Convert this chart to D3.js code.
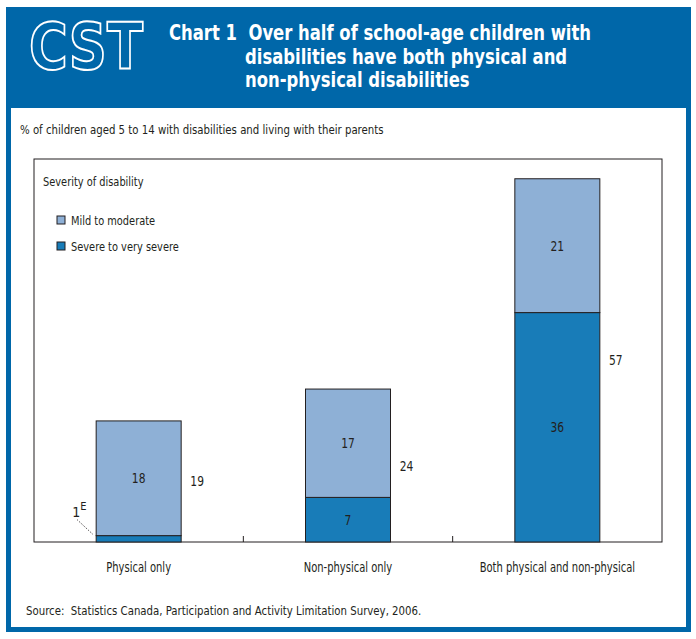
<!DOCTYPE html>
<html>
  <head>
    <meta charset="utf-8">
    <title>Chart 1</title>
    <script src="https://cdn.jsdelivr.net/npm/d3@7"></script>
    <style>
      body { margin: 0; background: #fff; }
      text { font-family: "DejaVu Sans", sans-serif; font-stretch: condensed; fill: #231f20; }
    </style>
  </head>
  <body>
    <script>
      // data
      var categories = ["Physical only", "Non-physical only", "Both physical and non-physical"];
      var severe = [1, 7, 36];
      var mild = [18, 17, 21];
      var totals = [19, 24, 57];
      var seriesNames = ["Mild to moderate", "Severe to very severe"];
      var titleLines = ["Chart 1  Over half of school-age children with",
                        "disabilities have both physical and",
                        "non-physical disabilities"];

      var width = 696, height = 639;
      var blue = "#0067a9";
      var colMild = "#8eb0d6", colSevere = "#187cb8";

      // squeeze text horizontally, the original uses a condensed face
      function condense(sel, k) {
        sel.each(function() {
          var len = this.getComputedTextLength();
          d3.select(this).attr("textLength", len * k).attr("lengthAdjust", "spacingAndGlyphs");
        });
      }

      var svg = d3.select("body").append("svg")
          .attr("width", width)
          .attr("height", height);

      // outer frame + header
      svg.append("rect").attr("x", 6).attr("y", 7).attr("width", 685).attr("height", 625).attr("fill", blue);
      svg.append("rect").attr("x", 11).attr("y", 108).attr("width", 675).attr("height", 519).attr("fill", "#fff");

      svg.append("text")
          .attr("x", 29).attr("y", 69)
          .attr("textLength", 114).attr("lengthAdjust", "spacingAndGlyphs")
          .style("font-family", "'DejaVu Sans', sans-serif").style("font-stretch", "normal")
          .style("font-weight", "bold").style("font-size", "64px")
          .style("fill", "none").style("stroke", "#fff").style("stroke-width", 2)
          .text("CST");

      svg.selectAll(".title").data(titleLines).enter().append("text")
          .attr("class", "title")
          .attr("x", function(d, i) { return i == 0 ? 169 : 245; })
          .attr("y", function(d, i) { return 40 + i * 23.5; })
          .style("fill", "#fff").style("font-weight", "bold").style("font-size", "21px")
          .style("white-space", "pre")
          .text(function(d) { return d; })
          .call(condense, 0.87);

      svg.append("text").attr("x", 20).attr("y", 134)
          .style("font-size", "13px")
          .text("% of children aged 5 to 14 with disabilities and living with their parents")
          .call(condense, 0.87);

      // plot area
      var pLeft = 34, pRight = 662, pTop = 159, pBottom = 542;

      var x = d3.scaleBand().domain(categories).range([pLeft, pRight]).paddingInner(0).paddingOuter(0);
      var y = d3.scaleLinear().domain([0, 60.1]).range([pBottom, pTop]);
      var barW = 85;

      svg.append("rect").attr("x", pLeft).attr("y", pTop)
          .attr("width", pRight - pLeft).attr("height", pBottom - pTop)
          .attr("fill", "none").attr("stroke", "#231f20").attr("stroke-width", 1);

      var table = categories.map(function(c, i) {
        return { cat: c, severe: severe[i], mild: mild[i], total: totals[i] };
      });
      var stack = d3.stack().keys(["severe", "mild"])(table);

      svg.selectAll(".layer").data(stack).enter().append("g")
          .attr("fill", function(d) { return d.key == "severe" ? colSevere : colMild; })
        .selectAll("rect").data(function(d) { return d; }).enter().append("rect")
          .attr("x", function(d) { return x(d.data.cat) + x.bandwidth() / 2 - barW / 2; })
          .attr("y", function(d) { return y(d[1]); })
          .attr("width", barW)
          .attr("height", function(d) { return y(d[0]) - y(d[1]); })
          .attr("stroke", "#231f20").attr("stroke-width", 1);

      // segment labels (skip the tiny 1E one)
      svg.selectAll(".seglab").data(stack).enter().append("g")
        .selectAll("text").data(function(d) {
            return d.filter(function(p) { return p[1] - p[0] > 3; }).map(function(p) { return { p: p, key: d.key }; });
          }).enter().append("text")
          .attr("x", function(d) { return x(d.p.data.cat) + x.bandwidth() / 2; })
          .attr("y", function(d) { return (y(d.p[0]) + y(d.p[1])) / 2 + 5; })
          .attr("text-anchor", "middle").style("font-size", "14px")
          .text(function(d) { return d.p.data[d.key]; })
          .call(condense, 0.85);

      // totals
      svg.selectAll(".tot").data(table).enter().append("text")
          .attr("x", function(d) { return x(d.cat) + x.bandwidth() / 2 + barW / 2 + 16; })
          .attr("y", function(d) { return (y(d.total) + y(0)) / 2 + 5; })
          .attr("text-anchor", "middle").style("font-size", "14px")
          .text(function(d) { return d.total; })
          .call(condense, 0.85);

      // 1E callout for the small segment
      var c0 = x(categories[0]) + x.bandwidth() / 2 - barW / 2;
      svg.append("line")
          .attr("x1", c0 - 19).attr("y1", y(3.5))
          .attr("x2", c0 - 3).attr("y2", y(severe[0]) - 1)
          .attr("stroke", "#231f20").attr("stroke-width", 1).attr("stroke-dasharray", "1,1.5");
      var lab = svg.append("text").attr("x", c0 - 24).attr("y", y(4))
          .style("font-size", "14px");
      lab.append("tspan").text(severe[0]);
      lab.append("tspan").attr("dx", 0).attr("dy", -7).style("font-size", "11px").text("E");

      // x axis: ticks only at band boundaries
      var bounds = categories.slice(1).map(function(c) { return x(c); });
      svg.selectAll(".tk").data(bounds).enter().append("line")
          .attr("x1", function(d) { return d; }).attr("x2", function(d) { return d; })
          .attr("y1", pBottom).attr("y2", pBottom - 6)
          .attr("stroke", "#231f20");

      svg.selectAll(".cat").data(categories).enter().append("text")
          .attr("x", function(d) { return x(d) + x.bandwidth() / 2; })
          .attr("y", 572)
          .attr("text-anchor", "middle").style("font-size", "13.5px")
          .text(function(d) { return d; })
          .call(condense, 0.82);

      // legend
      svg.append("text").attr("x", 43).attr("y", 186).style("font-size", "13px")
          .text("Severity of disability").call(condense, 0.84);
      var leg = svg.selectAll(".leg").data(seriesNames).enter().append("g")
          .attr("transform", function(d, i) { return "translate(57," + (216 + i * 26) + ")"; });
      leg.append("rect").attr("width", 8).attr("height", 8)
          .attr("fill", function(d, i) { return i == 0 ? colMild : colSevere; })
          .attr("stroke", "#231f20").attr("stroke-width", 1);
      leg.append("text").attr("x", 14).attr("y", 9).style("font-size", "13px")
          .text(function(d) { return d; }).call(condense, 0.84);

      svg.append("text").attr("x", 26).attr("y", 615).style("font-size", "13px")
          .style("white-space", "pre")
          .text("Source:  Statistics Canada, Participation and Activity Limitation Survey, 2006.")
          .call(condense, 0.87);
    </script>
  </body>
</html>
